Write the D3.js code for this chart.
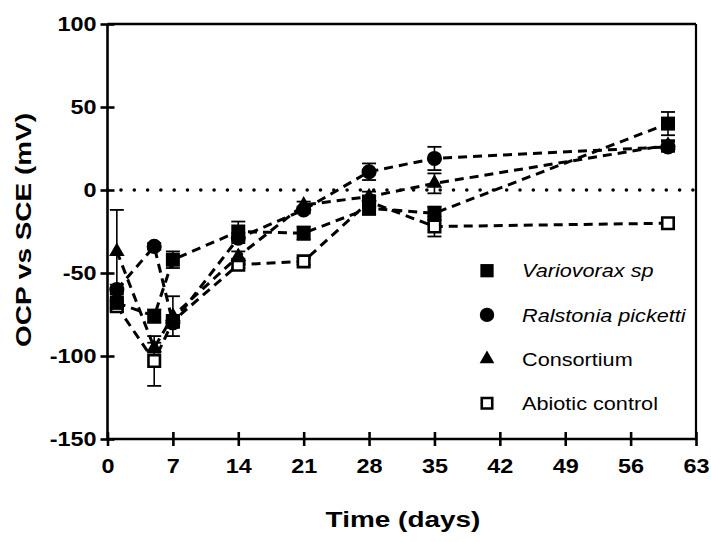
<!DOCTYPE html>
<html>
<head>
<meta charset="utf-8">
<script src="https://cdn.jsdelivr.net/npm/d3@7"></script>
<style>
  html, body { margin: 0; padding: 0; background: #fff; }
  svg { display: block; font-family: "Liberation Sans", Arial, sans-serif; }
</style>
</head>
<body>
<svg id="chart" width="711" height="542"></svg>
<script>
// Sampling days
const days = [1, 5, 7, 14, 21, 28, 35, 60];

// Open circuit potential (mV vs SCE), mean and error
const variovorax    = [-68, -76, -42, -25, -26, -11, -14, 40];
const variovoraxErr = [3, 4, 5, 6, 4, 4, 4, 7];
const ralstonia     = [-60, -34, -80, -29, -12, 11, 19, 26];
const ralstoniaErr  = [3, 2, 3, 3, 2, 5, 7, 3];
const consortium    = [-37, -95, -76, -40, -9, -4, 4, 27];
const consortiumErr = [25, 3, 12, 3, 2, 3, 6, 3];
const abiotic       = [-70, -103, -79, -45, -43, -7, -22, -20];
const abioticErr    = [3, 15, 3, 2, 2, 3, 6, 2];

// Axis ticks
const xTicks = [0, 7, 14, 21, 28, 35, 42, 49, 56, 63];
const yTicks = [-150, -100, -50, 0, 50, 100];

const seriesNames = ["Variovorax sp", "Ralstonia picketti", "Consortium", "Abiotic control"];
const italicNames = [true, true, false, false];

const svg = d3.select("#chart");
const plotL = 107.5, plotR = 696, plotT = 24, plotB = 439;

const x = d3.scaleLinear().domain([0, 63]).range([plotL, plotR]);
const y = d3.scaleLinear().domain([-150, 100]).range([plotB, plotT]);

// Marker shapes
const shapes = {
  square:   { type: d3.symbolSquare,   size: 196, fill: "#000" },
  circle:   { type: d3.symbolCircle,   size: 180, fill: "#000" },
  triangle: { type: d3.symbolTriangle, size: 105, fill: "#000" },
  open:     { type: d3.symbolSquare,   size: 132, fill: "#fff" }
};

const series = [
  { name: seriesNames[0], values: variovorax, err: variovoraxErr, shape: "square" },
  { name: seriesNames[1], values: ralstonia,  err: ralstoniaErr,  shape: "circle" },
  { name: seriesNames[2], values: consortium, err: consortiumErr, shape: "triangle" },
  { name: seriesNames[3], values: abiotic,    err: abioticErr,    shape: "open" }
];

// Bottom-most first so the filled squares sit on top
const drawOrder = [3, 2, 1, 0];

// Zero reference line
svg.append("line")
  .attr("x1", plotL).attr("x2", plotR)
  .attr("y1", y(0)).attr("y2", y(0))
  .attr("stroke", "#000").attr("stroke-width", 3.6)
  .attr("stroke-linecap", "round")
  .attr("stroke-dasharray", "0 13.3")
  .attr("stroke-dashoffset", -13.5);

// Frame on top and right
svg.append("line").attr("x1", plotL).attr("x2", plotR).attr("y1", plotT).attr("y2", plotT)
  .attr("stroke", "#000").attr("stroke-width", 2.6);
svg.append("line").attr("x1", plotR).attr("x2", plotR).attr("y1", plotT).attr("y2", plotB)
  .attr("stroke", "#000").attr("stroke-width", 2.2);

const line = d3.line().x((d, i) => x(days[i])).y(d => y(d));

// Dashed connecting lines
drawOrder.forEach(k => {
  const s = series[k];
  svg.append("path")
    .datum(s.values)
    .attr("d", line)
    .attr("fill", "none")
    .attr("stroke", "#000")
    .attr("stroke-width", 3)
    .attr("stroke-dasharray", "9 6");
});

// Error bars and markers
drawOrder.forEach(k => {
  const s = series[k];
  const g = svg.append("g");
  const pts = s.values.map((v, i) => ({ d: days[i], v: v, e: s.err[i] }));
  const eb = g.selectAll("g.eb").data(pts).enter().append("g").attr("class", "eb");
  eb.append("line")
    .attr("x1", p => x(p.d)).attr("x2", p => x(p.d))
    .attr("y1", p => y(p.v + p.e)).attr("y2", p => y(p.v - p.e))
    .attr("stroke", "#000").attr("stroke-width", 1.6);
  [1, -1].forEach(sign => {
    eb.append("line")
      .attr("x1", p => x(p.d) - 7).attr("x2", p => x(p.d) + 7)
      .attr("y1", p => y(p.v + sign * p.e)).attr("y2", p => y(p.v + sign * p.e))
      .attr("stroke", "#000").attr("stroke-width", 1.8);
  });
  const sh = shapes[s.shape];
  g.selectAll("path.m").data(pts).enter().append("path")
    .attr("class", "m")
    .attr("d", d3.symbol().type(sh.type).size(sh.size))
    .attr("transform", p => `translate(${x(p.d)},${y(p.v)})`)
    .attr("fill", sh.fill)
    .attr("stroke", s.shape === "open" ? "#000" : "none")
    .attr("stroke-width", 2.6);
});

// Axes (plain hyphen for negative numbers)
const fmt = d => String(d);
const xAxis = svg.append("g")
  .attr("transform", `translate(0,${plotB})`)
  .call(d3.axisBottom(x).tickValues(xTicks).tickFormat(fmt)
    .tickSize(7).tickSizeOuter(0).tickPadding(13));
const yAxis = svg.append("g")
  .attr("transform", `translate(${plotL},0)`)
  .call(d3.axisLeft(y).tickValues(yTicks).tickFormat(fmt)
    .tickSize(7).tickSizeOuter(0).tickPadding(4));

[xAxis, yAxis].forEach(a => {
  a.select(".domain").attr("stroke", "#000").attr("stroke-width", 2.6);
  a.selectAll(".tick line").attr("stroke", "#000").attr("stroke-width", 2.6);
  a.selectAll(".tick text")
    .attr("class", "tick-label")
    .attr("fill", "#000")
    .style("font-size", "19.5px")
    .style("font-weight", "bold")
    .style("font-family", "'Liberation Sans', Arial, sans-serif");
});
xAxis.selectAll(".tick line").attr("y1", -7).attr("y2", 7);
yAxis.selectAll(".tick line").attr("x1", 7).attr("x2", -7);
xAxis.select(".domain").attr("d", `M${plotL},0H${plotR}`);
yAxis.select(".domain").attr("d", `M0,${plotT}V${plotB + 1.3}`);

// Axis titles
svg.append("text")
  .attr("class", "title")
  .attr("x", 403).attr("y", 527)
  .attr("text-anchor", "middle")
  .style("font-size", "22px").style("font-weight", "bold")
  .text("Time (days)");

svg.append("text")
  .attr("class", "title")
  .attr("transform", "translate(31,230) rotate(-90)")
  .attr("text-anchor", "middle")
  .style("font-size", "22px").style("font-weight", "bold")
  .text("OCP vs SCE (mV)");

// Legend
const legend = svg.append("g");
series.forEach((s, i) => {
  const cy = 270.7 + i * 44.2;
  const sh = shapes[s.shape];
  legend.append("path")
    .attr("d", d3.symbol().type(sh.type).size(s.shape === "open" ? 110 : sh.size * 0.9))
    .attr("transform", `translate(487,${cy})`)
    .attr("fill", sh.fill)
    .attr("stroke", s.shape === "open" ? "#000" : "none")
    .attr("stroke-width", 2.6);
  legend.append("text")
    .attr("class", "legend-label")
    .attr("x", 522).attr("y", cy + 6.6)
    .style("font-size", "18.5px")
    .style("font-style", italicNames[i] ? "italic" : "normal")
    .text(s.name);
});

// Widen the lettering to the figure's typeface proportions
function widen(sel, factor) {
  sel.each(function () {
    const w = this.getComputedTextLength();
    d3.select(this).attr("textLength", w * factor).attr("lengthAdjust", "spacingAndGlyphs");
  });
}
widen(svg.selectAll(".tick-label"), 1.2);
widen(svg.selectAll(".title"), 1.27);
widen(svg.selectAll(".legend-label"), 1.17);
</script>
</body>
</html>
